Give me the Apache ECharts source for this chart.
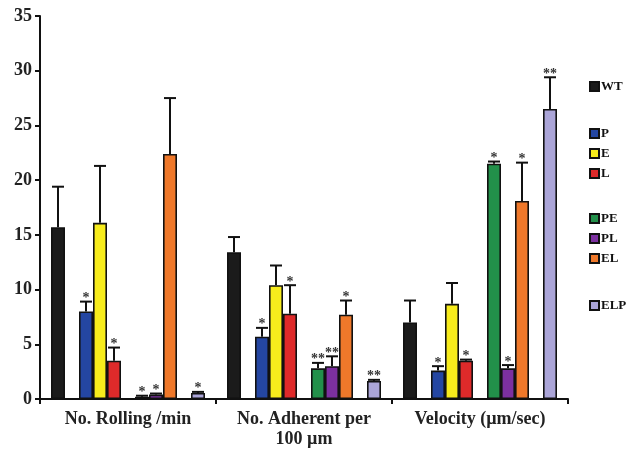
<!DOCTYPE html>
<html>
<head>
<meta charset="utf-8">
<script src="https://cdn.jsdelivr.net/npm/echarts@6/dist/echarts.min.js"></script>
<style>
  html, body { margin: 0; padding: 0; background: #fff; }
  #chart { width: 626px; height: 451px; }
</style>
</head>
<body>
<div id="chart"></div>
<script>
// Measurement groups on the x axis
const categories = ['No. Rolling /min', 'No. Adherent per\n100 µm', 'Velocity (µm/sec)'];

// Genotype means per group
const WT  = [15.7, 13.4, 7.0];
const P   = [8.0, 5.7, 2.6];
const E   = [16.1, 10.4, 8.7];
const L   = [3.5, 7.8, 3.5];
const PE  = [0.2, 2.8, 21.5];
const PL  = [0.4, 3.0, 2.8];
const EL  = [22.4, 7.7, 18.1];
const ELP = [0.55, 1.65, 26.5];

// Upper error (SEM) per group
const WT_err  = [3.7, 1.4, 2.0];
const P_err   = [0.9, 0.8, 0.4];
const E_err   = [5.2, 1.8, 1.9];
const L_err   = [1.2, 2.6, 0.1];
const PE_err  = [0.1, 0.5, 0.2];
const PL_err  = [0.1, 0.9, 0.3];
const EL_err  = [5.1, 1.3, 3.5];
const ELP_err = [0.1, 0.1, 2.9];

// Significance markers vs WT
const WT_sig  = ['', '', ''];
const P_sig   = ['*', '*', '*'];
const E_sig   = ['', '', ''];
const L_sig   = ['*', '*', '*'];
const PE_sig  = ['*', '**', '*'];
const PL_sig  = ['*', '**', '*'];
const EL_sig  = ['', '*', '*'];
const ELP_sig = ['*', '**', '**'];

// Y axis ticks
const yTicks = [0, 5, 10, 15, 20, 25, 30, 35];

const SERIF = '"Liberation Serif", "DejaVu Serif", serif';
const BAR_W = 14;

// Slot order within a group; null entries are empty gaps between genotype sets
const slots = [
  { name: 'WT',  color: '#1b1b1b', mean: WT,  err: WT_err,  sig: WT_sig },
  null,
  { name: 'P',   color: '#2446a2', mean: P,   err: P_err,   sig: P_sig },
  { name: 'E',   color: '#f7ec1c', mean: E,   err: E_err,   sig: E_sig },
  { name: 'L',   color: '#de2a2a', mean: L,   err: L_err,   sig: L_sig },
  null,
  { name: 'PE',  color: '#22904a', mean: PE,  err: PE_err,  sig: PE_sig },
  { name: 'PL',  color: '#7c30a0', mean: PL,  err: PL_err,  sig: PL_sig },
  { name: 'EL',  color: '#ef782a', mean: EL,  err: EL_err,  sig: EL_sig },
  null,
  { name: 'ELP', color: '#aba5d8', mean: ELP, err: ELP_err, sig: ELP_sig }
];
const nSlots = slots.length;

const series = [];
const errData = [];
slots.forEach((s, i) => {
  if (!s) {
    series.push({
      type: 'bar', name: '_gap' + i, barWidth: BAR_W, barGap: '0%',
      data: categories.map(() => null)
    });
    return;
  }
  series.push({
    type: 'bar', name: s.name, barWidth: BAR_W, barGap: '0%',
    itemStyle: { color: s.color, borderColor: '#111', borderWidth: 1.6 },
    data: s.mean
  });
  s.mean.forEach((m, c) => errData.push([c, i, m, m + s.err[c], s.sig[c]]));
});

// Upper whiskers with caps and significance stars
series.push({
  type: 'custom',
  name: 'err',
  z: 5,
  silent: true,
  data: errData,
  encode: { x: 0, y: 3 },
  renderItem: function (params, api) {
    const c = api.value(0);
    const slot = api.value(1);
    const base = api.coord([c, api.value(2)]);
    const top = api.coord([c, api.value(3)]);
    const x = base[0] + (slot - (nSlots - 1) / 2) * BAR_W;
    const sig = errData[params.dataIndex][4];
    const children = [
      { type: 'line', shape: { x1: x, y1: base[1], x2: x, y2: top[1] },
        style: { stroke: '#111', lineWidth: 2 } },
      { type: 'line', shape: { x1: x - 6, y1: top[1], x2: x + 6, y2: top[1] },
        style: { stroke: '#111', lineWidth: 2 } }
    ];
    if (sig) {
      children.push({
        type: 'text',
        style: {
          text: sig, x: x, y: top[1] + 4,
          align: 'center', verticalAlign: 'bottom',
          font: 'bold 14px ' + SERIF, fill: '#333'
        }
      });
    }
    return { type: 'group', children: children };
  }
});

function legendBlock(names, top) {
  return {
    orient: 'vertical', left: 584, top: top,
    data: names, itemWidth: 9, itemHeight: 9, itemGap: 7,
    icon: 'rect', selectedMode: false,
    textStyle: { fontFamily: SERIF, fontWeight: 'bold', fontSize: 13, color: '#111', padding: [0, 0, 0, -3] }
  };
}

const chart = echarts.init(document.getElementById('chart'), null, { renderer: 'canvas' });
chart.setOption({
  animation: false,
  backgroundColor: '#fff',
  grid: { left: 40, right: 58, top: 16, bottom: 52 },
  legend: [
    legendBlock(['WT'], 75),
    legendBlock(['P', 'E', 'L'], 122),
    legendBlock(['PE', 'PL', 'EL'], 207),
    legendBlock(['ELP'], 294)
  ],
  xAxis: {
    type: 'category',
    data: categories,
    axisLine: { lineStyle: { color: '#111', width: 2 } },
    axisTick: { show: true, interval: 0, length: 5, lineStyle: { color: '#111', width: 2 } },
    axisLabel: {
      interval: 0, hideOverlap: false,
      fontFamily: SERIF, fontWeight: 'bold', fontSize: 18, color: '#222',
      margin: 10, lineHeight: 20
    }
  },
  yAxis: {
    type: 'value',
    min: yTicks[0], max: yTicks[yTicks.length - 1], interval: 5,
    splitLine: { show: false },
    axisLine: { show: true, lineStyle: { color: '#111', width: 2 } },
    axisTick: { show: true, length: 5, lineStyle: { color: '#111', width: 2 } },
    axisLabel: { fontFamily: SERIF, fontWeight: 'bold', fontSize: 18, color: '#222', margin: 8 }
  },
  series: series
});
</script>
</body>
</html>
